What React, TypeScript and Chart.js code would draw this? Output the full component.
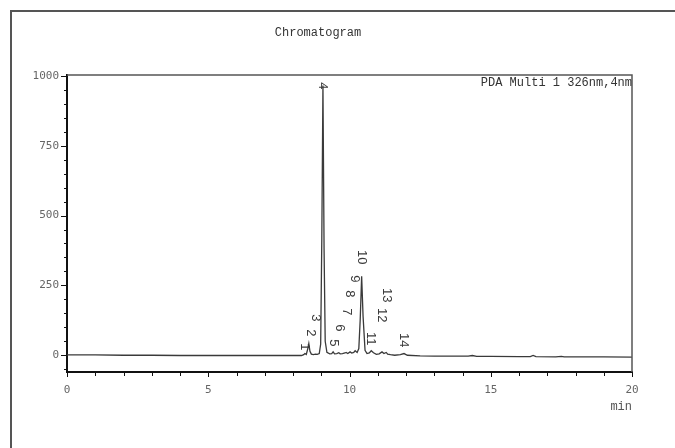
import React, { useEffect, useRef } from "react";
import { Chart, registerables } from "chart.js";

Chart.register(...registerables);

// Chromatogram trace (retention time in min, intensity in mAU)
const times = [
  0, 1, 2, 3, 4, 5, 6, 7, 8, 8.3, 8.38, 8.42, 8.47, 8.52, 8.56, 8.6, 8.65, 8.72, 8.8, 8.86,
  8.93, 8.98, 9.02, 9.06, 9.1, 9.14, 9.2, 9.3, 9.37, 9.42, 9.47, 9.55, 9.62, 9.67, 9.75, 9.84,
  9.88, 9.94, 10.02, 10.08, 10.15, 10.2, 10.27, 10.33, 10.38, 10.43, 10.48, 10.55, 10.62, 10.7,
  10.77, 10.85, 10.95, 11.05, 11.15, 11.22, 11.3, 11.35, 11.45, 11.6, 11.8, 11.93, 12.05, 12.5,
  13, 13.5, 14.2, 14.35, 14.5, 15, 16, 16.4, 16.5, 16.6, 17.3, 17.5, 17.6, 18, 19, 20,
];
const intensity = [
  1, 1, 0, 0, -1, -1, -1, -1, -1, -1, 2, 6, 3, 22, 42, 14, 4, 2, 4, 3,
  6, 40, 420, 965, 380, 50, 10, 5, 6, 12, 5, 6, 9, 5, 6, 8,
  10, 6, 12, 8, 10, 16, 10, 24, 130, 283, 140, 18, 6, 8,
  16, 9, 3, 5, 12, 6, 10, 4, 2, 0, 2, 6, 0, -2,
  -3, -3, -3, -1, -4, -4, -5, -5, -1, -5, -6, -4, -6, -6, -6, -7,
];

// Peak annotations
const peakNames = ["1", "2", "3", "4", "5", "6", "7", "8", "9", "10", "11", "12", "13", "14"];
const peakTimes = [8.42, 8.63, 8.81, 9.06, 9.42, 9.66, 9.88, 10.02, 10.19, 10.44, 10.76, 11.15, 11.33, 11.93];
const labelLevels = [17, 67, 121, 951, 31, 85, 142, 207, 260, 325, 35, 117, 189, 28];

const xMajorTicks = [0, 5, 10, 15, 20];
const yMajorTicks = [0, 250, 500, 750, 1000];

const titleText = "Chromatogram";
const channelText = "PDA Multi 1 326nm,4nm";
const xUnitText = "min";

const tickFont = { family: "'DejaVu Sans Mono', monospace", size: 11 };
const monoFont = "12px 'Liberation Mono', 'DejaVu Sans Mono', monospace";

const decorPlugin = {
  id: "decor",
  beforeDraw(chart: any) {
    const { ctx, width, height } = chart;
    ctx.save();
    ctx.fillStyle = "#ffffff";
    ctx.fillRect(0, 0, width, height);
    ctx.restore();
  },
  afterDraw(chart: any) {
    const { ctx, chartArea } = chart;
    const xs = chart.scales.x;
    const ys = chart.scales.y;
    ctx.save();

    // outer frame
    ctx.strokeStyle = "#555";
    ctx.lineWidth = 2;
    ctx.beginPath();
    ctx.moveTo(11, chart.height);
    ctx.lineTo(11, 11);
    ctx.lineTo(chart.width, 11);
    ctx.stroke();

    // plot frame top/right
    ctx.strokeStyle = "#555";
    ctx.lineWidth = 1.5;
    ctx.beginPath();
    ctx.moveTo(chartArea.left, chartArea.top);
    ctx.lineTo(chartArea.right, chartArea.top);
    ctx.lineTo(chartArea.right, chartArea.bottom);
    ctx.stroke();

    // y ticks
    ctx.strokeStyle = "#111";
    ctx.lineWidth = 1;
    for (let v = -50; v <= 1000; v += 50) {
      const y = Math.round(ys.getPixelForValue(v)) + 0.5;
      const len = yMajorTicks.includes(v) ? 6 : 3;
      ctx.beginPath();
      ctx.moveTo(chartArea.left - len, y);
      ctx.lineTo(chartArea.left, y);
      ctx.stroke();
    }
    // x ticks
    for (let t = 0; t <= 20; t += 1) {
      const x = Math.round(xs.getPixelForValue(t)) + 0.5;
      const len = xMajorTicks.includes(t) ? 5 : 4;
      ctx.beginPath();
      ctx.moveTo(x, chartArea.bottom);
      ctx.lineTo(x, chartArea.bottom + len);
      ctx.stroke();
    }

    // texts
    ctx.fillStyle = "#333";
    ctx.font = monoFont;
    ctx.textBaseline = "middle";
    ctx.textAlign = "center";
    ctx.fillText(titleText, 318, 33);
    ctx.textAlign = "right";
    ctx.fillText(channelText, chartArea.right, chartArea.top + 8);
    ctx.fillStyle = "#555";
    ctx.fillText(xUnitText, chartArea.right, chartArea.bottom + 35);

    // peak labels
    ctx.fillStyle = "#3a3a3a";
    ctx.font = "13px 'Liberation Sans', Arial, sans-serif";
    peakNames.forEach((name, i) => {
      const x = xs.getPixelForValue(peakTimes[i]);
      const y = ys.getPixelForValue(labelLevels[i]);
      ctx.save();
      ctx.translate(x, y);
      ctx.rotate(Math.PI / 2);
      ctx.textAlign = "right";
      ctx.textBaseline = "middle";
      ctx.fillText(name, 0, 0);
      ctx.restore();
    });

    ctx.restore();
  },
};

export default function App() {
  const ref = useRef<HTMLCanvasElement | null>(null);
  useEffect(() => {
    if (!ref.current) return;
    const chart = new Chart(ref.current, {
      type: "line",
      data: {
        datasets: [
          {
            data: times.map((t, i) => ({ x: t, y: intensity[i] })),
            borderColor: "#3a3a3a",
            borderWidth: 1.3,
            pointRadius: 0,
            tension: 0,
            fill: false,
          },
        ],
      },
      options: {
        animation: false,
        responsive: false,
        maintainAspectRatio: false,
        layout: { padding: { top: 75, right: 43, bottom: 0, left: 0 } },
        plugins: { legend: { display: false }, tooltip: { enabled: false }, title: { display: false } },
        scales: {
          x: {
            type: "linear",
            min: 0,
            max: 20,
            afterFit: (s: any) => {
              s.height = 76;
            },
            afterBuildTicks: (s: any) => {
              s.ticks = xMajorTicks.map((v) => ({ value: v }));
            },
            ticks: {
              autoSkip: false,
              maxRotation: 0,
              font: tickFont,
              color: "#666",
              padding: 12,
              callback: (v: any) => String(v),
            },
            grid: { display: true, drawOnChartArea: false, drawTicks: false },
            border: { display: true, color: "#111", width: 2 },
          },
          y: {
            type: "linear",
            min: -60,
            max: 1003,
            afterFit: (s: any) => {
              s.width = 67;
            },
            afterBuildTicks: (s: any) => {
              s.ticks = yMajorTicks.map((v) => ({ value: v }));
            },
            ticks: {
              autoSkip: false,
              font: tickFont,
              color: "#666",
              padding: 8,
              callback: (v: any) => String(v),
            },
            grid: { display: true, drawOnChartArea: false, drawTicks: false },
            border: { display: true, color: "#111", width: 2 },
          },
        },
      },
      plugins: [decorPlugin],
    });
    return () => chart.destroy();
  }, []);
  return (
    <div style={{ position: "fixed", left: 0, top: 0, width: 675, height: 448, background: "#fff" }}>
      <canvas ref={ref} width={675} height={448} style={{ display: "block" }} />
    </div>
  );
}
